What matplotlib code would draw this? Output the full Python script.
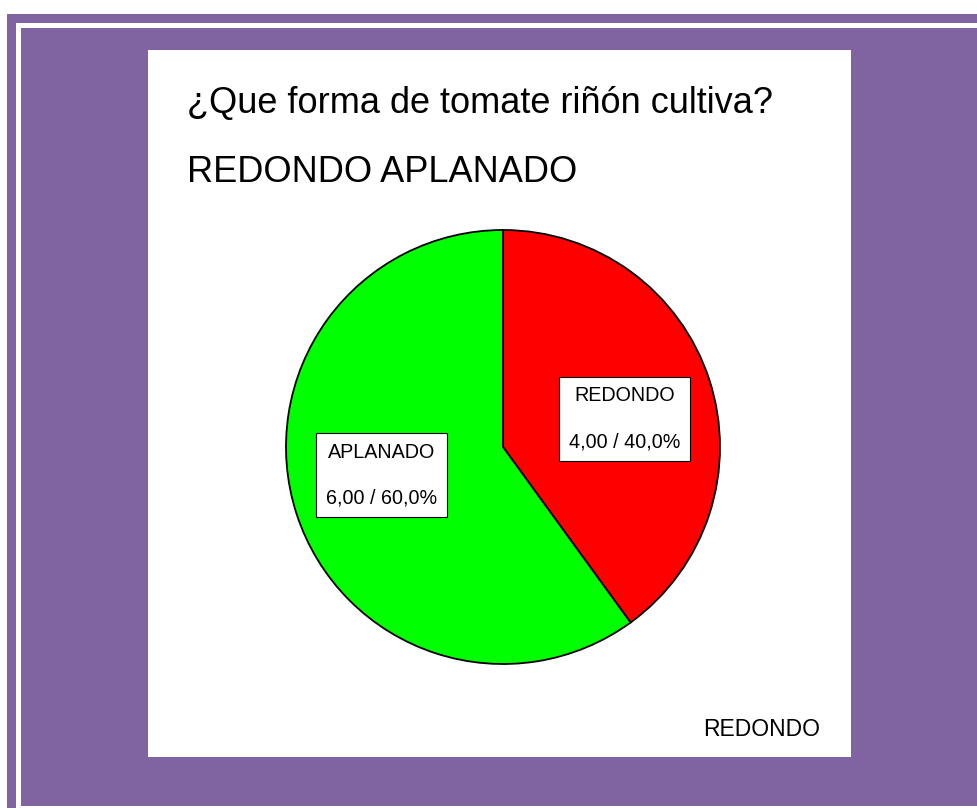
import numpy as np
import matplotlib as mpl
mpl.use('Agg')
import matplotlib.pyplot as plt
from matplotlib.patches import Rectangle

plt.rcParams['font.family'] = ['Liberation Sans', 'DejaVu Sans']

titulo = '¿Que forma de tomate riñón cultiva?'
subtitulo = 'REDONDO APLANADO'
categorias = ['REDONDO', 'APLANADO']
valores = [4.0, 6.0]
colores = ['#FF0000', '#00FF00']
leyenda = 'REDONDO'

W, H = 977, 808
purple = '#8064A2'

fig = plt.figure(figsize=(W / 100, H / 100), dpi=100)
fig.patch.set_facecolor('white')


def px_rect(x0, y0, x1, y1, color):
    # rectangle given in pixel coords (origin top-left)
    fig.add_artist(Rectangle((x0 / W, 1 - y1 / H), (x1 - x0) / W, (y1 - y0) / H,
                             transform=fig.transFigure, facecolor=color,
                             edgecolor='none', zorder=0))


# double frame + white chart area
px_rect(7, 14, W, H, purple)
px_rect(16, 23, W, H, 'white')
px_rect(21, 28, W, 806, purple)
px_rect(148, 50, 851, 757, 'white')

fig.text(187 / W, 1 - 113 / H, titulo, fontsize=26, va='baseline', ha='left')
fig.text(187 / W, 1 - 182 / H, subtitulo, fontsize=26, va='baseline', ha='left')
fig.text(703 / W, 1 - 736 / H, leyenda, fontsize=16.5, va='baseline', ha='left')

# pie: centre (503, 447), radius 217 px
cx, cy, r = 503, 447, 217
ax = fig.add_axes([(cx - r) / W, (H - cy - r) / H, 2 * r / W, 2 * r / H])
wedges, _ = ax.pie(valores, colors=colores, startangle=90, counterclock=False,
                   wedgeprops=dict(edgecolor='black', linewidth=1.3))
for w in wedges:
    w.set_clip_on(False)
ax.set_xlim(-1, 1)
ax.set_ylim(-1, 1)
ax.set_aspect('equal')
ax.axis('off')

total = sum(valores)
for w, nom, v in zip(wedges, categorias, valores):
    ang = np.deg2rad((w.theta1 + w.theta2) / 2 - 5)
    pct = v / total * 100
    txt = f'{nom}\n{v:.2f} / {pct:.1f}%'.replace('.', ',')
    ax.text(0.575 * np.cos(ang), 0.575 * np.sin(ang), txt, ha='center', va='center',
            fontsize=14.2, linespacing=2.8, multialignment='center',
            bbox=dict(boxstyle='square,pad=0.5', facecolor='white',
                      edgecolor='black', linewidth=0.8))

fig.savefig('out.png', dpi=100)
